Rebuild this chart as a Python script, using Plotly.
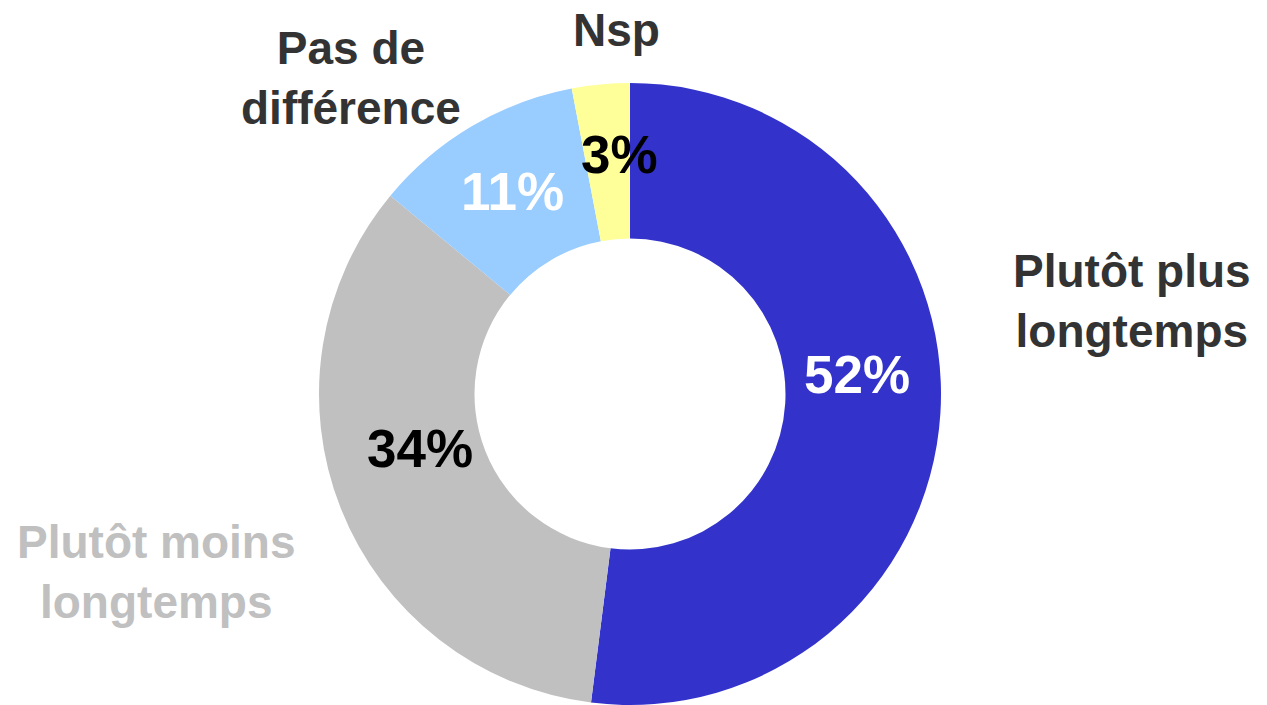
import plotly.graph_objects as go

categories = ["Plutôt plus<br>longtemps", "Plutôt moins<br>longtemps", "Pas de<br>différence", "Nsp"]
values = [52, 34, 11, 3]
slice_colors = ["#3333CC", "#C0C0C0", "#99CCFF", "#FFFF99"]
pct_colors = ["#FFFFFF", "#000000", "#FFFFFF", "#000000"]
label_colors = ["#333333", "#C0C0C0", "#333333", "#333333"]

W, H = 1267, 705
# annotation placements in pixels (layout only)
pct_pos = [(857, 374), (420, 448), (512, 192), (619, 154)]
label_pos = [(1132, 301), (156, 572), (351, 78), (616, 30)]

fig = go.Figure(go.Pie(
    values=values,
    labels=[c.replace("<br>", " ") for c in categories],
    marker=dict(colors=slice_colors, line=dict(width=0)),
    hole=0.5,
    sort=False,
    direction="clockwise",
    rotation=0,
    textinfo="none",
    hoverinfo="label+percent",
    showlegend=False,
    domain=dict(x=[(630 - 311) / W, (630 + 311) / W], y=[0, 1 - 83 / H]),
))

font_family = "Liberation Sans, Arial, sans-serif"
annotations = []
for v, (px, py), col in zip(values, pct_pos, pct_colors):
    annotations.append(dict(
        x=px / W, y=1 - py / H, xref="paper", yref="paper",
        text=f"<b>{v}%</b>", showarrow=False, xanchor="center", yanchor="middle",
        font=dict(family=font_family, size=53, color=col),
    ))
for cat, (px, py), col in zip(categories, label_pos, label_colors):
    annotations.append(dict(
        x=px / W, y=1 - py / H, xref="paper", yref="paper",
        text=f"<b>{cat}</b>", showarrow=False, xanchor="center", yanchor="middle",
        align="center",
        font=dict(family=font_family, size=46, color=col),
    ))

fig.update_layout(
    width=W, height=H,
    margin=dict(l=0, r=0, t=0, b=0),
    paper_bgcolor="white",
    plot_bgcolor="white",
    annotations=annotations,
)

fig.write_html(
    "out.html",
    config={"displayModeBar": False},
    post_script="document.body.style.margin='0';document.body.style.overflow='hidden';",
)
